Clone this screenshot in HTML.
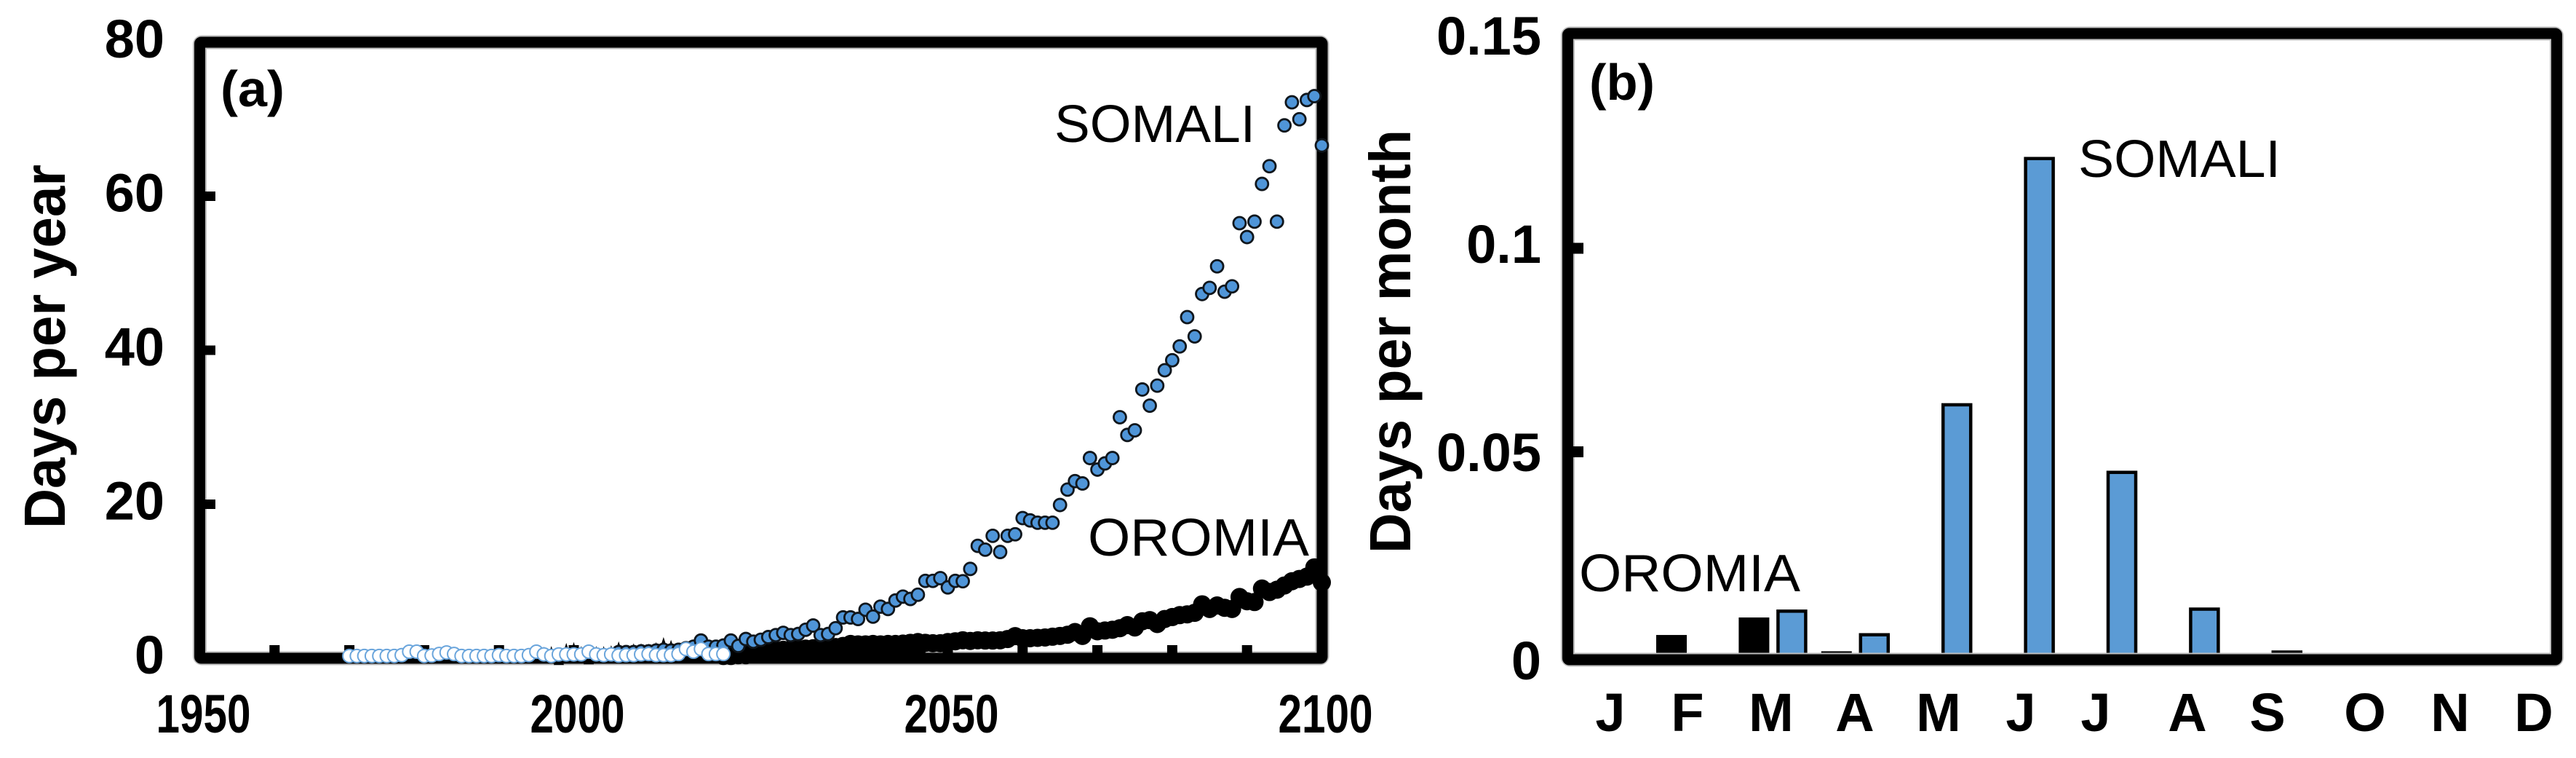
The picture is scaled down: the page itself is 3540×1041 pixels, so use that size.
<!DOCTYPE html>
<html lang="en">
<head>
<meta charset="utf-8">
<title>Days per year and month: Somali and Oromia</title>
<style>
html,body{margin:0;padding:0;background:#fff;width:3540px;height:1041px;overflow:hidden}
svg{display:block}
text{font-family:"Liberation Sans",Arial,sans-serif;fill:#000}
.tick{font-weight:700;font-size:74px}
.title{font-weight:700;font-size:80px}
.label{font-weight:400;font-size:72px}
.panel{font-weight:700;font-size:70px}
</style>
</head>
<body>
<svg id="chart" xmlns="http://www.w3.org/2000/svg" width="3540" height="1041" viewBox="0 0 3540 1041">
  <rect x="0" y="0" width="3540" height="1041" fill="#fff"/>

  <g id="panel-a">
    <rect x="274.5" y="58" width="1542.5" height="846" fill="none" stroke="#bdbdbd" stroke-width="19" rx="3"/>
    <g id="a-ticks"></g>
    <rect x="274.5" y="58" width="1542.5" height="846" fill="none" stroke="#000" stroke-width="15" rx="2"/>
    <g id="a-labels"></g>
    <text class="title" transform="translate(89 726) rotate(-90)" textLength="500" lengthAdjust="spacingAndGlyphs">Days per year</text>
    <text class="panel" x="303" y="146" textLength="88" lengthAdjust="spacingAndGlyphs">(a)</text>
    <g id="a-marks"></g>
    <text class="label" x="1449" y="195" textLength="276" lengthAdjust="spacingAndGlyphs">SOMALI</text>
    <text class="label" x="1495" y="763" textLength="304" lengthAdjust="spacingAndGlyphs">OROMIA</text>
  </g>

  <g id="panel-b">
    <g id="b-bars"></g>
    <rect x="2154.5" y="46" width="1359" height="860" fill="none" stroke="#bdbdbd" stroke-width="19" rx="3"/>
    <g id="b-ticks"></g>
    <rect x="2154.5" y="46" width="1359" height="860" fill="none" stroke="#000" stroke-width="15" rx="2"/>
    <g id="b-labels"></g>
    <text class="title" transform="translate(1938 760) rotate(-90)" textLength="582" lengthAdjust="spacingAndGlyphs">Days per month</text>
    <text class="panel" x="2184" y="137" textLength="90" lengthAdjust="spacingAndGlyphs">(b)</text>
    <text class="label" x="2856" y="243" textLength="278" lengthAdjust="spacingAndGlyphs">SOMALI</text>
    <text class="label" x="2170" y="812" textLength="304" lengthAdjust="spacingAndGlyphs">OROMIA</text>
    <g class="tick" text-anchor="middle">
      <text x="2213" y="1004">J</text>
      <text x="2319" y="1004">F</text>
      <text x="2434" y="1004">M</text>
      <text x="2549" y="1004">A</text>
      <text x="2664" y="1004">M</text>
      <text x="2777" y="1004">J</text>
      <text x="2880" y="1004">J</text>
      <text x="3006" y="1004">A</text>
      <text x="3116" y="1004">S</text>
      <text x="3250" y="1004">O</text>
      <text x="3367" y="1004">N</text>
      <text x="3482" y="1004">D</text>
    </g>
  </g>
</svg>

<script>
// ---- Panel (a) data ----
const xTickLabelsA = [1950, 2000, 2050, 2100];
const xMinorTicksA = [1960, 1970, 1980, 1990, 2000, 2010, 2020, 2030, 2040, 2050, 2060, 2070, 2080, 2090];
const yTicksA = [0, 20, 40, 60, 80];

const oromiaTriangleStart = 1996;
const oromiaTriangles = [1.5,1.6,1.2,2.0,2.1,1.6,1.3,1.6,1.6,1.7,2.2,1.4,1.95,1.95,1.9,2.1,2.75,2.4,1.8,1.5,1.5,1.5,1.5,1.5];

const oromiaStart = 2020;
const oromiaValues = [
  0.6,0.6,0.7,0.8,0.85,0.9,
  1.0,1.05,1.1,1.15,1.2,
  1.25,1.3,1.35,1.4,1.45,
  1.6,1.85,1.8,1.8,1.85,
  1.8,1.85,1.85,1.9,2.0,
  2.1,2.0,1.95,1.95,2.1,
  2.2,2.33,2.25,2.33,2.3,
  2.3,2.33,2.5,2.87,2.6,
  2.6,2.65,2.7,2.8,
  2.9,3.05,3.4,2.9,4.15,3.5,3.6,3.7,3.9,4.3,4.0,4.8,4.95,4.45,5.1,5.35,
  5.6,5.7,5.9,7.0,6.4,6.85,6.55,6.4,7.95,7.4,7.3,9.05,8.6,8.9,9.45,10.0,
  10.3,10.6,11.8,9.85
];
const oromiaLowerStart = 2020;
const oromiaLowerValues = [0.3,0.3,0.4,0.4,0.5,0.5,0.6,0.6,0.7,0.7,0.8,0.8,0.9,0.9,1.0,1.0,1.0,1.1,1.1,1.1,1.2,1.2,1.2,1.3,1.3,1.3,1.4];

const somaliStart = 2006;
const somaliValues = [
  0.8,0.8,0.8,0.9,0.9,1.0,1.1,1.0,1.1,1.3,1.5,
  2.3,1.5,1.5,1.65,2.3,1.6,2.5,2.15,2.4,2.75,3.0,3.3,3.0,3.15,3.7,4.25,3.0,3.15,3.9,
  5.3,5.3,5.1,6.3,5.4,6.7,6.4,7.5,8.0,7.7,8.25,10.05,10.05,10.4,9.2,10.05,10.0,11.6,14.6,14.1,15.9,13.8,15.9,16.1,18.2,17.9,17.6,17.6,17.6,
  19.9,21.9,23.0,22.7,26.0,24.5,25.3,26.0,31.3,29.0,29.6,34.9,32.8,35.4,37.4,38.7,40.5,44.3,41.8,47.3,48.1,50.9,47.6,48.3,
  56.5,54.7,56.7,61.6,63.9,56.7,69.2,72.2,70.0,72.5,73.0,66.6
];

const somaliHistStart = 1970;
const somaliHistValues = [
  0.3,0.3,0.3,0.3,0.3,0.3,0.3,0.4,
  0.85,0.85,0.3,0.35,0.55,0.75,0.55,0.3,
  0.3,0.3,0.3,0.3,0.4,
  0.3,0.3,0.3,0.4,0.85,0.5,0.3,0.5,0.5,0.5,
  0.5,0.85,0.5,0.4,0.5,0.35,
  0.4,0.4,0.5,0.55,
  0.4,0.4,0.4,0.55,1.2,
  0.85,1.2,0.55,0.55,0.55
];

// ---- Panel (b) data ----
const monthNames = ['J','F','M','A','M','J','J','A','S','O','N','D'];
const oromiaMonthly = [0, 0.005, 0.0093, 0.001, 0, 0, 0, 0, 0, 0, 0, 0];
const somaliMonthly = [0, 0, 0.0113, 0.0055, 0.062, 0.1225, 0.0454, 0.0118, 0.00125, 0, 0, 0];
const yTicksB = [0, 0.05, 0.1, 0.15];
const yTickTextB = ['0', '0.05', '0.1', '0.15'];

// ---- Axis functions ----
const NS = 'http://www.w3.org/2000/svg';
function xA(year) { return 274.5 + (year - 1950) * 10.28; }
function yA(v) { return 904 - v * 10.575; }
function xB(i) { return 2235.6 + i * 113.4; }
function yB(v) { return 900 - v * 5590; }
function yBLabel(v) { return 933 - v * 5720; }

function make(tag, parent, attrs, txt) {
  const el = document.createElementNS(NS, tag);
  for (const k in attrs) el.setAttribute(k, attrs[k]);
  if (txt !== undefined) el.textContent = txt;
  parent.appendChild(el);
  return el;
}

const aTicks = document.getElementById('a-ticks');
const aLabels = document.getElementById('a-labels');
const aMarks = document.getElementById('a-marks');
const bBars = document.getElementById('b-bars');
const bTicks = document.getElementById('b-ticks');
const bLabels = document.getElementById('b-labels');

// Panel (a) ticks and labels
xMinorTicksA.forEach(function (yr) {
  const el = make('rect', aTicks, { x: xA(yr) - 7, y: 886, width: 14, height: 14, fill: '#000' });
  
  
});
yTicksA.forEach(function (v) {
  if (v > 0 && v < 80) {
    const el = make('rect', aTicks, { x: 278, y: yA(v) - 6.5, width: 18, height: 13, fill: '#000' });
    
    
  }
  const t = make('text', aLabels, { class: 'tick', x: 226, y: yA(v) + 21, 'text-anchor': 'end' }, String(v));
  
  
});
xTickLabelsA.forEach(function (yr) {
  const t = make('text', aLabels, { class: 'tick', x: xA(yr) - 60, y: 1006, textLength: 130, lengthAdjust: 'spacingAndGlyphs' }, String(yr));
  
  
});

// Panel (a) series
oromiaTriangles.forEach(function (v, i) {
  const x = xA(oromiaTriangleStart + i), y = yA(v);
  const pts = x + ',' + y + ' ' + (x + 7) + ',' + (y + 22) + ' ' + (x - 7) + ',' + (y + 22);
  const el = make('polygon', aMarks, { points: pts, fill: '#000' });
  
  
});
oromiaLowerValues.forEach(function (v, i) {
  const el = make('circle', aMarks, { cx: xA(oromiaLowerStart + i), cy: yA(v), r: 12.5, fill: '#000' });
  
  
});
oromiaValues.forEach(function (v, i) {
  const el = make('circle', aMarks, { cx: xA(oromiaStart + i), cy: yA(v), r: 12.5, fill: '#000' });
  
  
});
somaliValues.forEach(function (v, i) {
  const el = make('circle', aMarks, { cx: xA(somaliStart + i), cy: yA(v), r: 8.5, fill: '#4f95d8', stroke: '#10161c', 'stroke-width': 2.8 });
  
  
});
somaliHistValues.forEach(function (v, i) {
  const el = make('circle', aMarks, { cx: xA(somaliHistStart + i), cy: yA(v), r: 9, fill: '#fff', stroke: '#6aa5dc', 'stroke-width': 2 });
  
  
});

// Panel (b) bars
const barWidth = 42;
const barOffset = 52;
oromiaMonthly.forEach(function (v, i) {
  if (v <= 0) return;
  const top = yB(v);
  const el = make('rect', bBars, { x: xB(i) - barOffset - barWidth / 2, y: top, width: barWidth, height: yB(0) - top + 2, fill: '#000' });
  
  
});
somaliMonthly.forEach(function (v, i) {
  if (v <= 0) return;
  const top = yB(v);
  const el = make('rect', bBars, { x: xB(i) - barWidth / 2 + 2, y: top + 2.5, width: barWidth - 4, height: yB(0) - top, fill: '#5b9bd5', stroke: '#000', 'stroke-width': 4.5 });
  
  
});

// Panel (b) ticks and labels
yTicksB.forEach(function (v, i) {
  if (v > 0 && v < 0.15) {
    const el = make('rect', bTicks, { x: 2158, y: yB(v) - 7.5, width: 18, height: 15, fill: '#000' });
    
    
  }
  const t = make('text', bLabels, { class: 'tick', x: 2118, y: yBLabel(v), 'text-anchor': 'end' }, yTickTextB[i]);
  
  
});
</script>
</body>
</html>
